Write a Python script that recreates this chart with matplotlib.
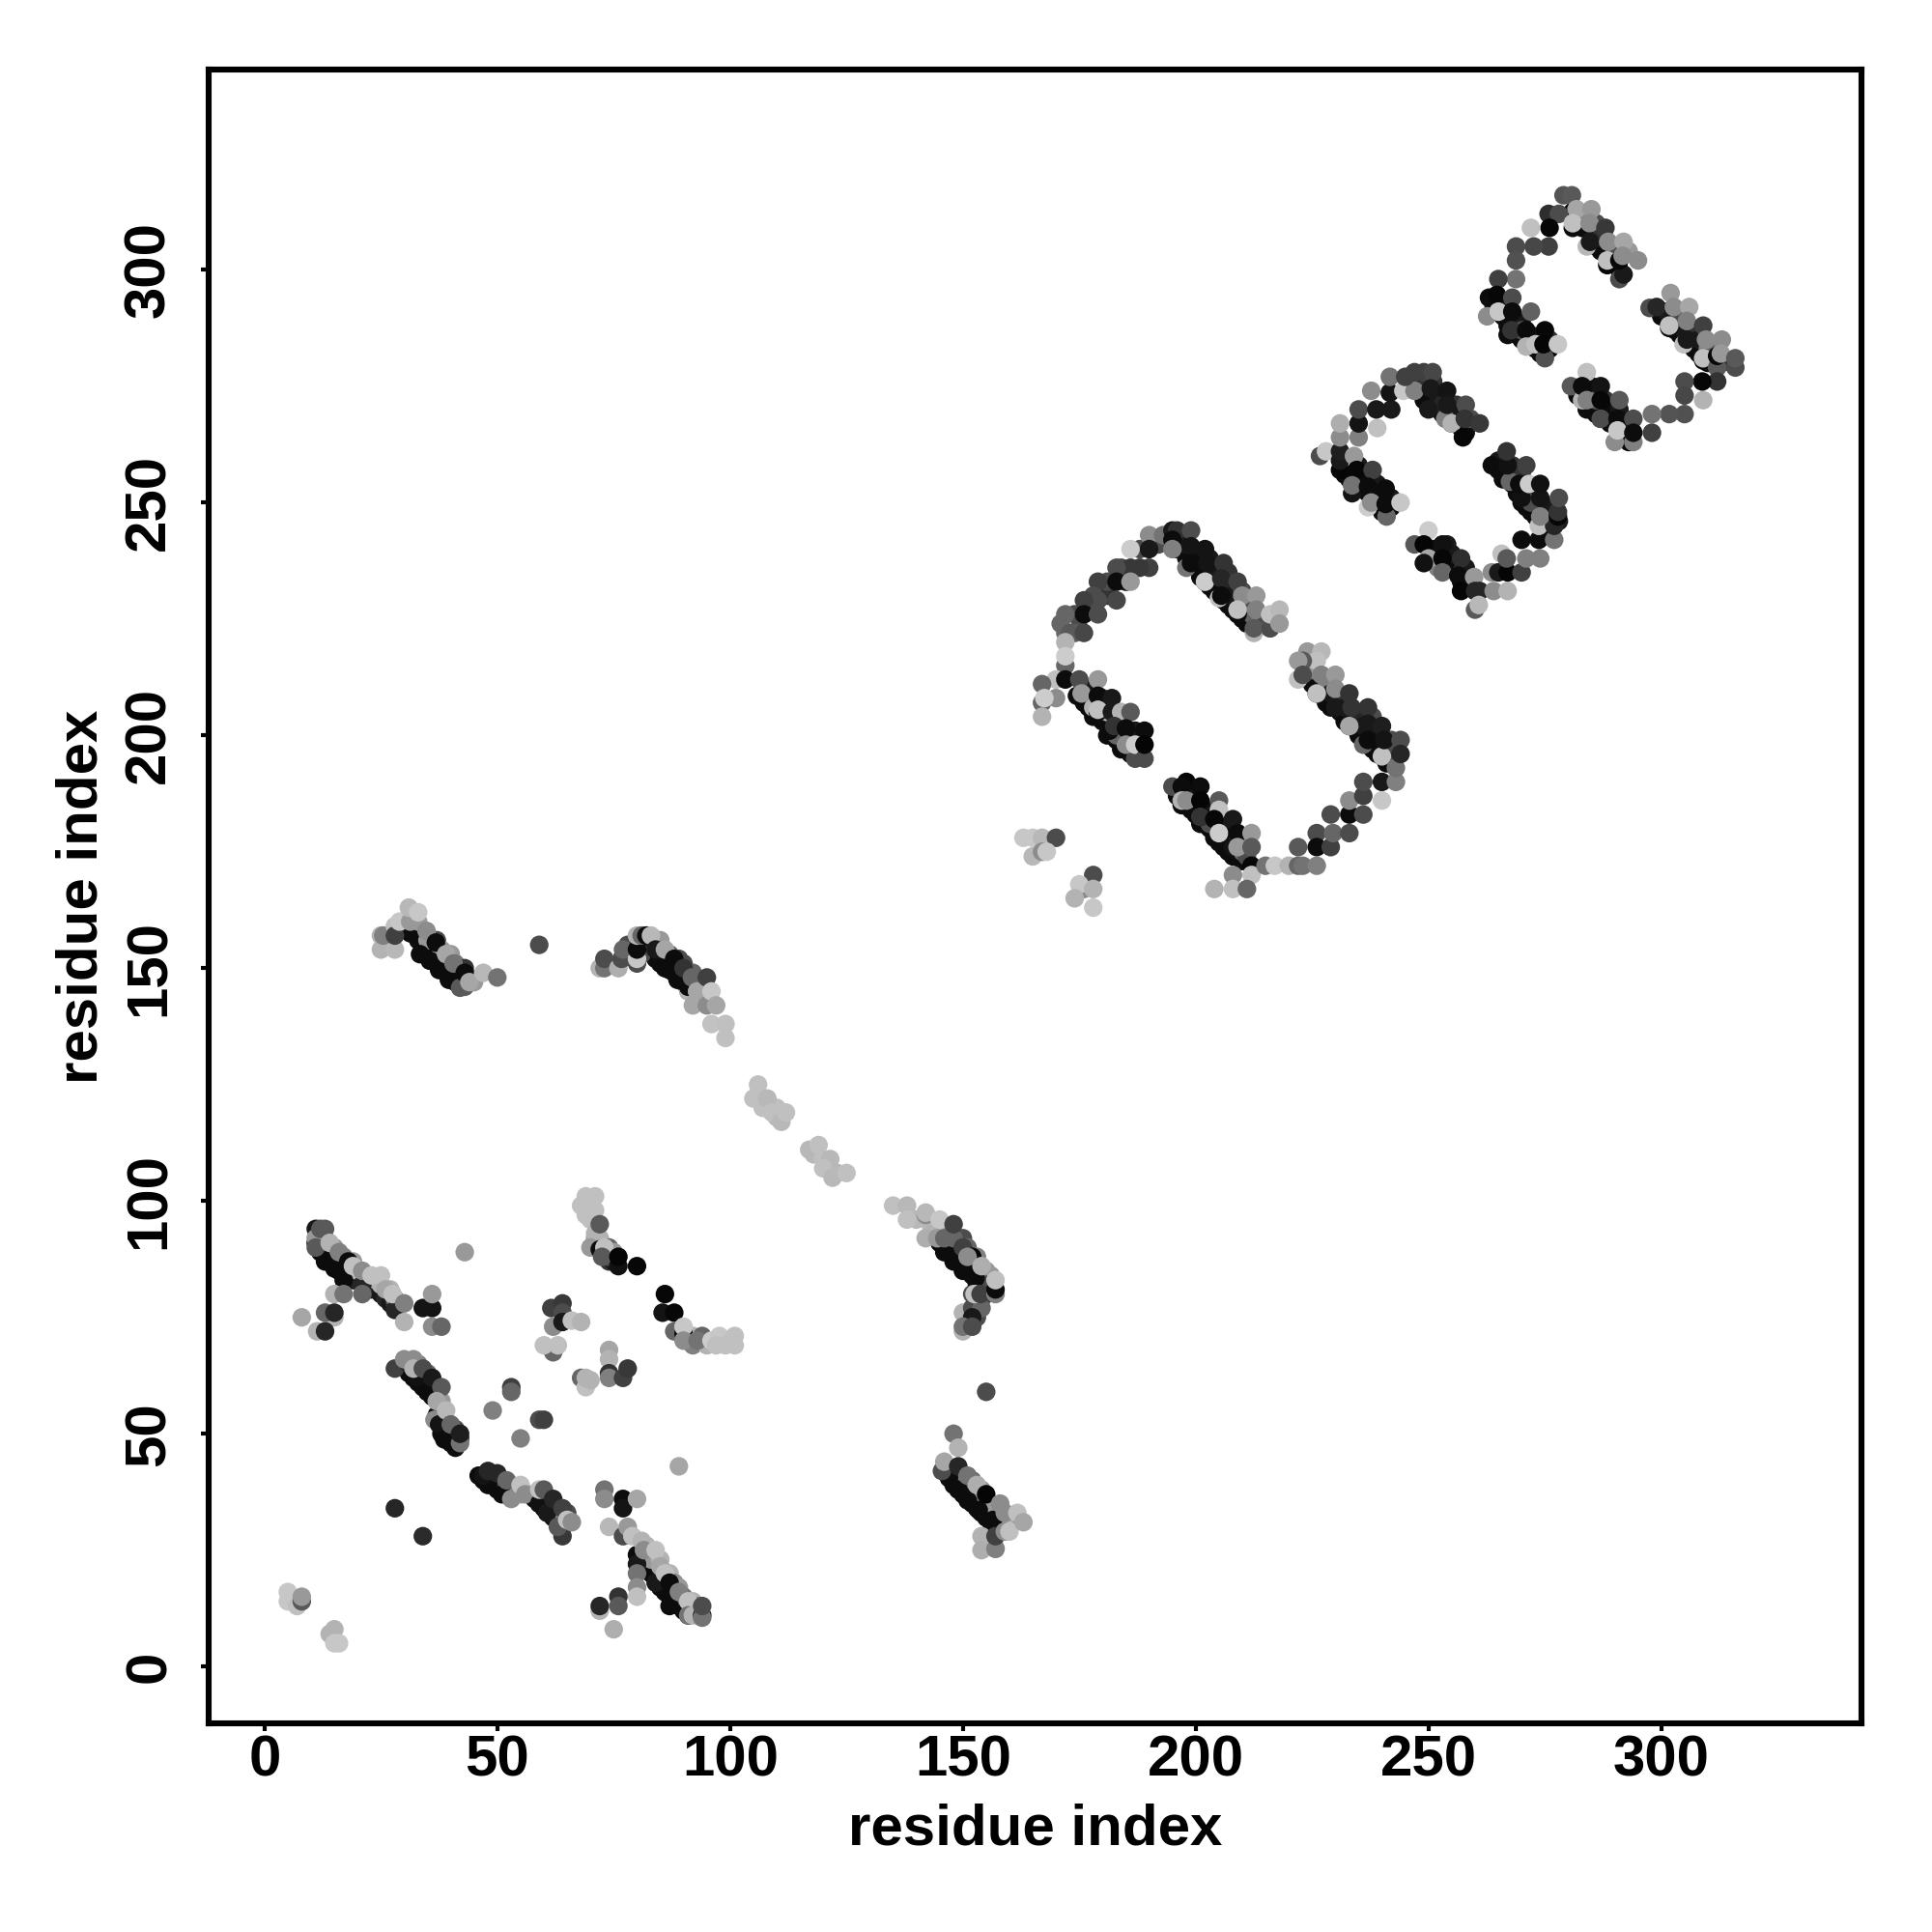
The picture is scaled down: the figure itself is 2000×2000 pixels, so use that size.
import matplotlib
matplotlib.use("Agg")
import matplotlib.pyplot as plt

# contacts: (residue i, residue j, grey level), listed in drawing order
# the partly hidden ones come first, they only show along the edges of the bands
under_low = [(11,91,.05),(12,90,.05),(13,88,.05),(14,87,.05),(15,86,.05),(16,85,.05),(17,84,.05),(18,84,.1),(19,83,.1),
             (20,83,.15),(21,82,.1),(22,82,.15),(23,81,.1),(24,81,.15),(25,80,.1),(26,79,.15),(27,78,.1),(28,78,.2),
             (13,92,.6),(15,90,.6),(17,88,.5),(19,87,.6),(20,85,.7),(22,84,.6),(24,83,.7),(25,82,.7),(27,81,.7),(28,79,.5),
             (31,63,.05),(32,62,.05),(33,61,.05),(34,60,.05),(35,59,.05),(36,58,.05),(37,54,.05),(38,52,.05),(38,50,.05),
             (39,49,.05),(40,48,.05),(33,65,.5),(35,63,.4),(36,61,.3),(37,59,.35),(38,57,.6),(39,53,.5),(40,50,.3),
             (41,49,.2),(42,49,.15),(41,51,.3),
             (46,41,.05),(47,40,.05),(49,39,.05),(50,38,.05),(52,37,.05),(53,37,.1),(55,37,.6),(57,37,.7),(58,36,.05),
             (59,35,.05),(60,34,.05),(61,33,.05),(62,32,.05),(63,31,.05),(64,30,.1),(49,41,.5),(51,39,.3),(53,39,.4),
             (54,38,.5),(60,37,.3),(61,35,.2),(63,34,.3),(64,32,.5),(65,33,.3),
             (80,24,.05),(81,23,.05),(82,21,.05),(83,20,.05),(84,19,.05),(85,17,.05),(86,16,.05),(87,15,.05),(88,14,.05),
             (89,13,.05),(90,12,.05),(91,11,.05),(82,26,.7),(83,23,.6),(85,23,.7),(86,19,.6),(87,20,.7),(88,18,.55),
             (89,17,.6),(90,15,.45),(92,14,.7),(93,13,.5),
             (71,92,.6),(70,96,.75),(72,92,.7),(74,90,.4),(74,87,.2),(75,87,.1),(74,88,.3),(75,89,.6),(92,71,.7),
             (92,69,.5),(95,69,.7)]
under_mid = [(32,158,.05),(33,156,.05),(34,155,.05),(35,154,.05),(36,152,.05),(37,151,.05),(38,150,.05),(39,149,.05),
             (40,148,.05),(41,147,.05),(42,146,.3),(43,146,.35),(35,156,.6),(37,156,.3),(38,154,.6),(40,153,.6),
             (41,151,.5),(43,150,.2),(44,148,.5),(45,147,.6),(32,161,.7),
             (83,155,.05),(84,152,.05),(85,152,.05),(86,150,.05),(87,150,.05),(88,149,.05),(89,148,.05),(90,147,.05),
             (91,146,.05),(92,145,.05),(85,156,.6),(87,153,.4),(89,152,.3),(90,151,.3),(92,149,.4),(93,147,.4),
             (94,146,.5),(78,155,.3),(79,153,.1),(82,155,.1),(81,153,.3),
             (145,91,.05),(146,90,.05),(147,89,.05),(148,88,.05),(149,87,.05),(150,86,.05),(151,85,.05),(152,84,.05),
             (153,82,.05),(154,81,.05),(155,80,.05),(147,93,.5),(149,92,.4),(150,92,.3),(151,90,.4),(153,88,.5),
             (154,84,.4),(155,85,.6),(156,84,.6),(155,82,.3),(154,79,.2),(153,75,.3),(151,75,.3),
             (146,42,.05),(147,41,.05),(148,39,.05),(149,38,.05),(150,37,.05),(151,36,.05),(152,35,.05),(153,34,.05),
             (154,33,.05),(155,32,.05),(156,31,.05),(157,30,.05),(148,42,.3),(150,41,.5),(152,40,.4),(154,38,.6),
             (155,36,.5),(157,34,.4),(158,33,.4),(156,35,.6),(160,31,.6),(159,30,.7),
             (106,123,.72),(108,120,.72),(110,118,.72),(110,120,.75),(118,110,.72),(121,107,.72),(123,106,.72),
             (140,96,.72),(143,95,.72),(144,94,.7)]
under_top = [(174,226,.3),(175,223,.3),(177,228,.3),(181,230,.2),(181,233,.3),(185,233,.1),(184,236,.3),(188,240,.3),
             (192,241,.3),(171,224,.4),(174,222,.35),
             (176,207,.05),(177,206,.05),(178,204,.05),(180,203,.05),(181,200,.05),(183,199,.05),(184,197,.05),(186,196,.05),
             (187,195,.3),(177,210,.1),(178,206,.7),(180,208,.3),(181,205,.7),(183,204,.1),(184,203,.1),(186,200,.05),
             (187,201,.1),(188,198,.2),(183,200,.4),
             (196,187,.05),(197,185,.05),(199,184,.05),(200,183,.05),(201,181,.05),(203,180,.05),(204,178,.05),(205,177,.05),
             (206,176,.05),(207,175,.05),(208,174,.05),(210,173,.05),(199,188,.1),(200,185,.05),(203,184,.08),(205,182,.1),
             (206,180,.1),(207,178,.05),(209,177,.5),(210,175,.4),(211,174,.3),(203,181,.3),
             (225,211,.05),(227,210,.05),(228,207,.05),(229,206,.05),(231,205,.05),(232,203,.05),(234,202,.05),(235,200,.05),
             (236,199,.05),(238,197,.05),(239,196,.05),(241,194,.05),(225,214,.4),(228,212,.5),(229,209,.1),(231,207,.2),
             (232,206,.1),(235,204,.15),(236,202,.1),(238,204,.3),(239,200,.1),(241,198,.1),(242,197,.1),(242,199,.3),
             (243,196,.3),(224,214,.6),
             (196,240,.05),(198,238,.05),(200,236,.05),(201,234,.05),(203,232,.05),(204,231,.05),(206,229,.05),(207,228,.05),
             (208,227,.05),(210,225,.05),(211,224,.05),(213,223,.05),(198,241,.1),(201,239,.05),(203,238,.1),(204,235,.1),
             (207,235,.2),(207,232,.15),(208,230,.1),(210,231,.3),(211,228,.3),(212,226,.4),(214,225,.5),(215,224,.3)]
under_last = [(246,276,.05),(248,274,.05),(249,272,.05),(250,271,.05),(252,270,.05),(253,269,.05),(254,268,.05),(255,267,.05),
              (257,266,.05),(258,265,.05),(249,276,.2),(251,276,.2),(252,273,.1),(253,271,.15),(256,271,.2),(256,269,.1),(259,268,.3),
              (232,256,.05),(233,255,.05),(235,255,.05),(236,254,.05),(237,252,.05),(238,251,.05),(239,250,.05),(240,248,.05),
              (235,258,.1),(236,256,.05),(238,255,.05),(239,254,.1),(240,252,.05),(242,251,.1),(242,249,.05),
              (251,240,.05),(252,239,.05),(254,238,.05),(255,236,.05),(256,235,.05),(257,233,.05),(258,233,.05),(259,232,.05),
              (252,236,.5),(254,241,.1),(255,239,.1),(257,235,.2),(258,236,.1),
              (265,257,.05),(266,255,.05),(268,254,.05),(269,252,.05),(270,250,.05),(271,249,.05),(272,248,.05),(273,247,.05),
              (274,246,.05),(275,244,.05),(265,259,.1),(268,258,.2),(268,256,.05),(270,256,.2),(271,253,.05),(272,252,.1),
              (273,251,.05),(275,249,.3),(276,249,.1),(276,247,.1),(278,246,.1),(272,250,.3),
              (282,311,.05),(283,309,.05),(285,307,.05),(286,305,.05),(287,304,.05),(289,303,.05),(290,301,.05),(291,300,.05),
              (283,312,.4),(284,312,.5),(286,310,.3),(287,307,.2),(290,304,.3),(293,304,.6),
              (264,292,.05),(266,290,.05),(267,288,.05),(269,286,.05),(270,285,.05),(272,284,.05),(273,283,.05),(274,282,.05),
              (266,293,.1),(268,289,.05),(270,289,.1),(270,287,.3),(272,286,.2),(274,285,.05),(276,285,.2),(276,283,.03),
              (300,290,.05),(302,289,.05),(303,287,.05),(304,286,.05),(306,284,.05),(307,283,.05),(308,282,.05),(310,280,.05),
              (301,291,.1),(304,290,.3),(305,287,.1),(307,287,.2),(308,285,.1),(310,283,.5),(311,283,.4),(313,280,.2),(311,280,.05),
              (282,273,.05),(284,270,.05),(286,269,.05),(287,268,.05),(289,267,.05),(291,265,.05),(292,264,.05),(293,263,.05),
              (285,275,.05),(287,273,.08),(288,272,.2),(289,270,.05),(291,270,.1),(292,267,.3),(293,266,.05),(286,272,.35)]

low_a = [(12,89,.05),(13,87,.05),(15,85.5,.05),(17,83,.05),(21,82,.15),(11,94,.1),(11,92,.6),(11,90,.35),
         (12,94,.35),(13,94,.35),(14,91,.7),(16,89,.5),(18,87,.05),(19,86,.75),(21,85,.55),(21,80,.4),
         (23,84,.75),(25,84,.75),(26,81,.65),(28,76.6,.15),(27.5,80,.75),(30,78,.5),(30,74,.7),(34,77,.08),
         (36,77,.08),(36,80,.6),(36,73,.55),(38,73,.4),(8,75,.65),(15,80,.7),(17,80,.45),(15,75,.7),
         (13,76,.4),(15,76,.15),(11.3,72,.7),(13,72,.15),(43,89,.6)]
low_b = [(69,101,.75),(71,101,.75),(68,99,.75),(71,98,.75),(69,97,.75),(71,93,.7),(72,95,.35),(70,90,.6),
         (72,89.6,.05),(73,90,.75),(72.5,88,.35),(76,86,.07),(76,88,.02),(80,86,.03),(86,80,.03),(85.5,76,.08),
         (88,76,.03),(88,72,.4),(90,71.5,.05),(90,73,.78),(90,70,.55),(94,71,.4),(93,70,.45),(96,70,.8),
         (97.7,71,.78),(97,69,.75),(99,69,.75),(101,71,.75),(101,69,.75)]
low_c = [(61.6,77,.25),(64,78,.22),(64,76,.3),(62,73,.55),(64,74,.1),(66,74.3,.75),(68,74,.7),(62,67.5,.4),
         (60,69,.75),(63,69,.75),(74,68,.65),(74,66,.7),(74,63,.2),(74,62,.5),(77,62,.25),(78,64,.22),
         (68,62,.4),(69,60,.75),(69,62,.7),(70,61.5,.7)]
low_d = [(33,62,.07),(35,59,.05),(28,64,.25),(31,65,.15),(30,66,.55),(32,66,.55),(32,64,.7),(34,64,.3),
         (36,62,.1),(38,60,.35),(37,57,.65),(36.5,53,.55),(37.5,52,.08),(39,55,.72),(38.6,48.8,.05),(41,47,.05),
         (40,52,.4),(42,48,.45),(42,50,.12)]
low_e = [(48,39,.05),(51,37,.05),(47,41,.08),(48,42,.15),(50,41.5,.15),(52,40,.4),(53,36,.55),(55,39,.75),
         (56,37,.55),(59,35,.07),(60.7,33,.1),(59,38,.75),(60,38,.35),(62,36,.15),(64,28,.22),(63,30,.35),
         (64,34,.25),(65,31.5,.75),(66,31,.55)]
low_f = [(80,22,.1),(84,18,.1),(87,13,.05),(73,38,.45),(73,36,.55),(77,36,.05),(77,34,.08),(80,36,.65),
         (74,30,.72),(77,28,.3),(78,30,.6),(79,28,.75),(81,27,.7),(81.5,25,.55),(84,25,.75),(85,21.5,.65),
         (80,20,.45),(80,17,.55),(80,15,.75),(86,20,.75),(87,18,.05),(89,16,.5),(76,15,.2),(76,13,.35),
         (72,12,.7),(72,13,.15),(75,8,.68),(91,14,.75),(91,11,.45),(92,11,.7),(94,11,.05),(94,10.5,.45),
         (94,13,.3)]
low_g = [(5,16,.78),(5,14,.78),(7,13,.75),(8,14,.35),(8,15,.6),(14,7,.7),(15,8,.7),(15,5,.78),(16,5,.78)]
singles = [(53,60,.25),(53,59,.4),(49,55,.5),(59,53,.3),(60,53,.25),(55,49,.5),(28,34,.15),(34,28,.17),
           (89,43,.65),(59,155,.3),(155,59,.3)]
mid_a = [(33.4,153,.05),(35.5,151.6,.05),(37.5,149.6,.05),(39.6,147.5,.05),(31.3,157.5,.05),(25,154,.7),(28,154,.72),
         (25,157,.7),(25.5,157,.5),(28,159,.75),(28,157,.25),(29,160,.78),(31.3,160,.6),(31,163,.72),(33,160,.6),
         (33,162,.78),(34.8,158,.55),(36.8,155.5,.05),(39,153,.65),(40.6,151,.45),(42,145.8,.35),(43,149,.05),
         (44,147,.65),(47,149,.72),(50,148,.45)]
mid_b = [(85,151,.05),(87,149.6,.05),(88.7,147.5,.05),(72,150,.7),(73,150,.45),(73,152,.3),(76,150,.68),(76.7,152,.3),
         (77,154,.4),(80,151,.3),(80,152,.78),(80,154,.05),(80,157,.7),(81,157,.4),(82,157,.05),(83,157,.72),
         (84,154,.1),(86,154,.65),(88,152,.05),(90,150,.2),(91,145,.7),(92,142,.65),(91,146,.05),(91.8,148,.4),
         (92.9,145,.65),(95,148,.25),(95,142,.55),(96,145,.78),(97,142,.65),(96,138,.76),(99,138,.75),(99,135,.75)]
diagonal = [(106,125,.75),(105,122,.75),(107,120,.75),(108,122,.72),(109,119,.75),(111,117,.72),(112,119,.75),
            (117,111,.72),(119,112,.75),(120,109,.75),(121.5,109,.72),(120,107,.75),(122,105,.72),(125,106,.75),
            (135,99,.75),(138,99,.72),(138,96,.75)]
mid_c = [(146,89,.05),(148,87,.05),(150,85,.05),(152.7,83.4,.05),(142,97,.55),(142,97.5,.72),(142,92,.68),(145,96,.78),
         (144.5,92,.6),(146,92,.4),(148,92,.4),(148,95,.25),(150,90,.25),(152,88,.03),(151,88,.55),(154,86,.68),
         (150,76,.7),(152,77,.3),(154,77,.4),(152,75,.1),(150,72,.7),(150,73,.45),(152,73,.3),(152,80,.3),
         (152.5,80,.75),(153.8,80,.25),(157,80,.5),(157,81,.05),(157,83,.75)]
mid_d = [(147,40.5,.05),(149,38,.05),(151,35.7,.05),(153.4,33.6,.05),(156.5,31.5,.05),(148,50,.45),(149,47,.7),
         (145.5,42,.3),(146,44,.65),(149,43,.15),(151,41,.45),(153,39,.68),(155,37,.02),(158,35,.55),(154,28,.7),
         (154,25,.68),(157,25.3,.6),(157,25.3,.5),(157,28,.25),(159,29,.55),(160,29,.75),(159,33,.55),(161.7,33,.75),
         (163,31,.65)]
stray = [(163,178,.78),(165,178,.78),(167,178,.72),(170,178,.3),(165,174,.72),(167,175,.55),(168,175,.78),
         (178,170,.3),(176,167,.55),(175,168,.78),(178,167,.7),(174,165,.7),(178,163,.78)]
top_a = [(190,243,.55),(193,243,.45),(195,244,.1),(196,244,.2),(199,244,.3),(186,240,.8),(190,240,.1),(190,236,.25),
         (186,236,.22),(188,236,.22),(183,236,.3),(179,233,.25),(183,233,.05),(186,233,.6),(183,229,.28),(178,230,.3),
         (179,229,.3),(176,229,.25),(176,226,.05),(179,226,.3),(172,226,.4),(172,222,.4),(173,222,.35),(176,222,.28),
         (172,220,.7),(172,215,.4),(172,217,.8),(170,212,.75),(172,212,.05),(167,211,.4),(167,207,.4),(170,208,.55),
         (167.5,208,.8),(167,204,.7)]
top_b = [(174.5,208.5,.05),(179,205,.05),(181.5,201,.05),(185,198,.1),(175,212,.3),(179,212,.6),(175.5,209,.6),
         (179,208.5,.05),(182,208,.1),(179,205.5,.75),(182,205,.1),(184,205,.7),(186,205,.35),(182.5,202,.2),
         (185,201.5,.05),(189,201,.05),(185,198,.55),(187,198,.8),(189,195,.3),(189,198,.02)]
top_c = [(197,186,.05),(201,182.5,.05),(205,179,.03),(208,176,.08),(195,189,.3),(198,190,.02),(197,189,.05),(201,189,.05),
         (197,186,.7),(198,186,.55),(201,186,.02),(205,186,.35),(205,184,.75),(201,182.5,.2),(204,182,.03),(208,182,.1),
         (205,179,.8),(209,179,.05),(212,179,.6),(209,176,.6),(212,176,.35),(212,172,.03),(212,170,.75),(208,170,.55),
         (208,167,.75),(211,167,.4),(204,167,.7)]
top_d = [(215,172,.45),(217,172,.78),(220,172,.7),(222,176,.35),(222,172,.4),(223,172,.45),(226,179,.3),(226,176,.05),
         (229,176,.25),(226,172,.5),(229,183,.3),(229.5,179,.4),(233,179,.3),(233,183,.05),(233,186,.55),(236,183,.3),
         (236,187,.25),(236,190,.3),(240,190,.1),(243,190,.5),(240,186,.78)]
top_e = [(224,218,.6),(227,218,.72),(226,216,.75),(223,216,.35),(222,216,.6),(222,212,.75),(223,213,.3),(227,213,.5),
         (226,209,.05),(226,209,.75),(230,213,.6),(230,210,.55),(230,206,.1),(233,209,.2),(233.5,206,.2),(233,202,.05),
         (233,202,.65),(236,198,.4),(237,206,.2),(237,202.5,.1),(237,199,.05),(240,202,.12),(240,195.5,.1),(240,195.5,.75),
         (240.5,199,.08),(244,199,.3),(243,193,.45),(244,196,.15)]
top_f = [(199,237,.05),(202,233,.05),(205.5,230,.05),(209,226,.05),(195,242,.05),(195,240,.5),(199,240.6,.08),(202,240,.08),
         (198,236,.45),(199,237,.05),(202.5,237,.08),(206,237,.2),(202,233,.8),(205.5,233.7,.15),(209,233,.25),(205,229.5,.75),
         (205.5,230,.05),(210,230,.55),(213,230,.6),(209,227,.75),(213,227,.5),(212.5,222,.7),(212.5,223,.35),(216,223,.5),
         (216,223,.3),(216,226,.75),(218,227,.72),(218,224,.6)]
top_g = [(226.7,260,.3),(228,261,.78),(231,257,.02),(231,259,.1),(231,261,.12),(234,260,.6),(234.6,257,.03),(238,257,.25),
         (231,264,.55),(231,267,.68),(235,264,.5),(235,267,.08),(235,270,.3),(239,266,.75),(237.7,274,.55),(238.8,270,.1),
         (242,270,.1),(241.7,273.6,.08),(241.7,277,.45),(244.6,274,.78),(247,274,.5),(245,277,.25),(247,278,.25),(249,278,.25),
         (250.9,278,.28),(250,270,.1),(250.5,274.5,.1),(254,274,.08),(253.6,268,.5),(254,271,.1),(255,267,.7),(258,271,.3),
         (257.4,264,.03),(257.8,268,.2),(261,267,.22)]
top_h = [(233.6,252,.08),(233.6,253.7,.45),(237,253.4,.05),(240.8,253,.05),(237,249,.8),(237.7,250,.55),(241,247,.4),
         (240.8,249.7,.05),(244,250,.78)]
top_i = [(250,244,.8),(247,241,.35),(249,241,.02),(253,241,.07),(250,238,.65),(249,237,.07),(253,238,.03),(257,238,.18),
         (253,235,.4),(256.4,234.3,.05),(259.8,234,.6),(257,231,.02),(260,231,.15),(261,231,.15),(264,231,.55),(267,231,.7),
         (260,227,.35),(260.8,228,.72)]
top_j = [(263.6,235,.55),(265,235,.1),(267,235,.02),(270,235,.25),(265.7,239,.75),(266.8,238,.35),(270,242,.05),(271,238,.5),
         (274,238,.5),(273.7,242,.05),(273.7,245,.75),(277,242,.45),(277,245,.15),(274,247,.5),(277.8,247,.02),(277.8,248,.2),
         (278,251,.3),(274,251,.08),(270,251,.07),(267.5,254.5,.4),(269.5,254,.05),(271.6,254,.8),(274,254,.07),(271,258,.25),
         (263.6,258,.05),(267,258,.07),(266.8,261,.2)]
top_k = [(279,316,.33),(281,312.5,.02),(280.8,316,.35),(281.8,313,.65),(285,313,.6),(275.8,312,.18),(278,312,.3),(281,309,.05),
         (281,310,.75),(284.6,310,.55),(276,309,.03),(272,309,.75),(288,309,.22),(275.8,305,.25),(272.6,305,.28),(268.8,305,.3),
         (268.8,302,.32),(268.8,298,.45),(265,298,.25),(284,305,.72),(284.7,306,.1),(288.4,301,.03),(288.6,306,.55),(291.9,306,.65),
         (288.4,302,.75),(291,298,.3),(291.9,299,.1),(291,302,.03),(291.7,303,.55),(295,302,.55)]
top_l = [(263,294,.05),(262.6,290,.55),(264.7,294.6,.03),(268,294,.3),(265,291,.05),(265,291,.78),(268,291,.05),(272,291,.38),
         (267,286,.05),(267.8,287,.2),(271,287,.04),(275,287,.03),(271,283.5,.7),(273,284,.75),(275,281,.32),(274.7,284,.02),
         (277.8,284,.78)]
top_m = [(297.5,291.8,.3),(299,292,.15),(302,295,.6),(302.7,292,.55),(306,292,.65),(301.7,287.5,.05),(301.7,288,.75),(305.5,289,.5),
         (309,288,.25),(304.8,284,.75),(305.5,285,.1),(309.6,285,.55),(313,285,.55),(309,280.5,.05),(309,281,.75),(312,279,.35),
         (312,281.5,.03),(312.8,282,.6),(315.9,279,.3),(315.9,281,.35),(312,276,.2),(309,272,.7),(308.8,276,.03),(305,276,.3),
         (305,273,.28),(305,269,.32),(301.7,269,.33),(298,269,.45)]
top_n = [(284,278,.75),(280.6,275,.35),(283,272,.7),(283,275,.05),(284,272,.5),(287,275,.08),(287,272,.03),(291,272,.35),
         (287,268,.3),(290.6,268,.05),(294,268,.3),(290,263,.55),(290.6,265.5,.78),(294,263,.5),(294,265,.05),(298,265,.25)]

all_groups = [under_low, under_mid, under_top, under_last,
              low_a, low_b, low_c, low_d, low_e, low_f, low_g, singles, mid_a, mid_b, diagonal, mid_c, mid_d, stray,
              top_a, top_b, top_c, top_d, top_e, top_f, top_g, top_h, top_i, top_j, top_k, top_l, top_m, top_n]
tick_vals = [0, 50, 100, 150, 200, 250, 300]

x, y, g = [], [], []
for group in all_groups:
    for a, b, c in group:
        x.append(a)
        y.append(b)
        g.append(c)

plt.rcParams['font.family'] = ['Liberation Sans', 'DejaVu Sans']
plt.rcParams['font.weight'] = 'bold'

fig = plt.figure(figsize=(10, 10), dpi=200)
ax = fig.add_axes([0.108, 0.108, 0.8555, 0.856])
ax.scatter(x, y, c=g, cmap='gray', vmin=0, vmax=1, s=48, linewidths=0)
ax.set_xlim(-12, 343)
ax.set_ylim(-12.2, 343)
ax.set_xticks(tick_vals)
ax.set_yticks(tick_vals)
ax.tick_params(axis='x', length=3, width=1.5, labelsize=21.6, pad=1)
ax.tick_params(axis='y', length=3, width=1.5, labelsize=21.6, pad=9)
for label in ax.get_yticklabels():
    label.set_rotation(90)
    label.set_va('center')
for side in ax.spines.values():
    side.set_linewidth(2.2)
ax.set_xlabel("residue index", fontsize=21.6, fontweight='bold', labelpad=5.8)
ax.set_ylabel("residue index", fontsize=21.6, fontweight='bold', labelpad=5.6)

fig.savefig("out.png", dpi=200)
